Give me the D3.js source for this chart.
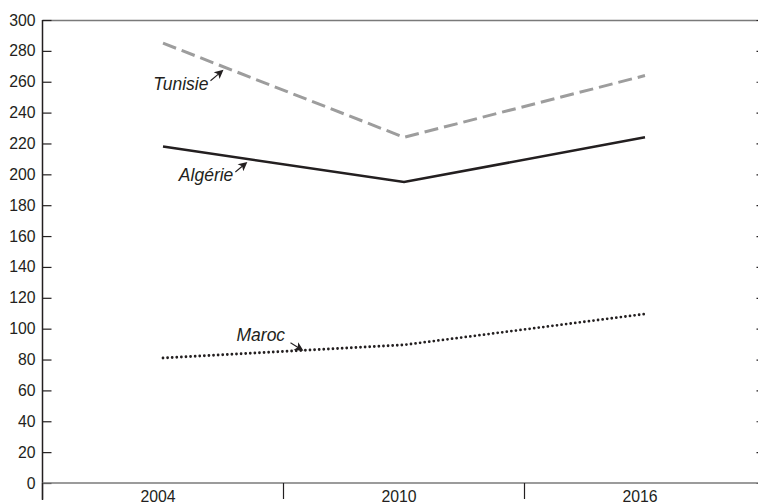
<!DOCTYPE html>
<html>
<head>
<meta charset="utf-8">
<script src="https://cdn.jsdelivr.net/npm/d3@7"></script>
<style>
  html, body { margin: 0; padding: 0; background: #fff; }
  svg { display: block; }
  text { font-family: "Liberation Sans", Arial, sans-serif; fill: #231f20; }
</style>
</head>
<body>
<svg id="chart" width="758" height="504"></svg>
<script>
const years = ["2004", "2010", "2016"];
const tunisie = [285, 224, 264];
const algerie = [218, 195, 224];
const maroc = [81, 89.5, 109.5];
const yTicks = [0, 20, 40, 60, 80, 100, 120, 140, 160, 180, 200, 220, 240, 260, 280, 300];

const svg = d3.select("#chart");
const mLeft = 42.5, mRight = 765.5, mTop = 20, mBottom = 483;

const x = d3.scaleBand().domain(years).range([mLeft, mRight]);
const xc = d => x(d) + x.bandwidth() / 2;
const y = d3.scaleLinear().domain([0, 300]).range([mBottom, mTop]);

// top border
svg.append("line").attr("x1", mLeft).attr("x2", 758).attr("y1", mTop + 0.5).attr("y2", mTop + 0.5)
  .attr("stroke", "#7a7a7a").attr("stroke-width", 1.5);

// left axis
const yAxis = d3.axisLeft(y).tickValues(yTicks).tickSize(-9).tickPadding(7);
const gy = svg.append("g").attr("transform", `translate(${mLeft},0)`).call(yAxis);
gy.select(".domain").remove();
gy.selectAll(".tick line").attr("stroke", "#231f20").attr("stroke-width", 1.2);
gy.selectAll(".tick text").style("font-size", "15.8px").attr("fill", "#231f20")
  .attr("font-family", "Liberation Sans, Arial, sans-serif");
svg.append("line").attr("x1", mLeft).attr("x2", mLeft).attr("y1", mTop).attr("y2", 500)
  .attr("stroke", "#231f20").attr("stroke-width", 1.5);

// right axis ticks
const yAxisR = d3.axisRight(y).tickValues(yTicks).tickSize(-9).tickFormat("");
const gr = svg.append("g").attr("transform", `translate(${mRight},0)`).call(yAxisR);
gr.select(".domain").remove();
gr.selectAll(".tick line").attr("stroke", "#231f20").attr("stroke-width", 1.2);

// bottom axis
svg.append("line").attr("x1", mLeft).attr("x2", 758).attr("y1", mBottom).attr("y2", mBottom)
  .attr("stroke", "#7a7a7a").attr("stroke-width", 1.6);
const bounds = years.map(d => x(d)).concat([mRight]);
svg.selectAll(".xtick").data(bounds).enter().append("line")
  .attr("x1", d => d).attr("x2", d => d).attr("y1", mBottom).attr("y2", 499)
  .attr("stroke", "#231f20").attr("stroke-width", 1.2);
svg.selectAll(".xlabel").data(years).enter().append("text")
  .attr("x", d => xc(d) - 5).attr("y", 502).attr("text-anchor", "middle")
  .style("font-size", "15.8px").text(d => d);

// lines
const line = d3.line().x((d, i) => xc(years[i])).y(d => y(d));
svg.append("path").datum(tunisie).attr("d", line).attr("fill", "none")
  .attr("stroke", "#9d9d9d").attr("stroke-width", 3).attr("stroke-dasharray", "14,6");
svg.append("path").datum(algerie).attr("d", line).attr("fill", "none")
  .attr("stroke", "#231f20").attr("stroke-width", 2.6);
svg.append("path").datum(maroc).attr("d", line).attr("fill", "none")
  .attr("stroke", "#231f20").attr("stroke-width", 2.8).attr("stroke-linecap", "round")
  .attr("stroke-dasharray", "0,4.6");

// annotations
const defs = svg.append("defs");
defs.append("marker").attr("id", "ah").attr("viewBox", "0 0 10 10").attr("refX", 10).attr("refY", 5)
  .attr("markerWidth", 12).attr("markerHeight", 9).attr("markerUnits", "userSpaceOnUse")
  .attr("orient", "auto")
  .append("path").attr("d", "M0,0 L10,5 L0,10 L2.5,5 Z").attr("fill", "#231f20");

function onLine(vals, i, t) {
  const x0 = xc(years[i]), x1 = xc(years[i + 1]);
  return [x0 + (x1 - x0) * t, y(vals[i]) + (y(vals[i + 1]) - y(vals[i])) * t];
}
const notes = [
  { text: "Tunisie", vals: tunisie, seg: 0, t: 0.251, tip: [0, 3], from: [-13, 11], txt: [-15, 20], anchor: "end" },
  { text: "Algérie", vals: algerie, seg: 0, t: 0.35, tip: [0, 3], from: [-12, 10], txt: [-14, 19], anchor: "end" },
  { text: "Maroc", vals: maroc, seg: 0, t: 0.583, tip: [0, 0.5], from: [-13, -8], txt: [-67, -10], anchor: "start" }
];
notes.forEach(n => {
  const p = onLine(n.vals, n.seg, n.t);
  const tip = [p[0] + n.tip[0], p[1] + n.tip[1]];
  svg.append("line").attr("x1", tip[0] + n.from[0]).attr("y1", tip[1] + n.from[1])
    .attr("x2", tip[0] - 3).attr("y2", tip[1] - 3 * n.from[1] / Math.abs(n.from[0]) * -1)
    .attr("stroke", "#231f20").attr("stroke-width", 1.1);
  svg.append("line").attr("x1", tip[0] + n.from[0] * 0.6).attr("y1", tip[1] + n.from[1] * 0.6)
    .attr("x2", tip[0]).attr("y2", tip[1]).attr("stroke", "none")
    .attr("marker-end", "url(#ah)");
  svg.append("text").attr("x", tip[0] + n.txt[0]).attr("y", tip[1] + n.txt[1])
    .attr("text-anchor", n.anchor).style("font-size", "17.5px").style("font-style", "italic")
    .text(n.text);
});
</script>
</body>
</html>
